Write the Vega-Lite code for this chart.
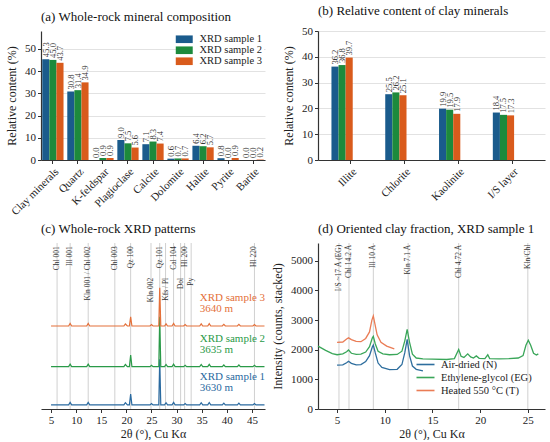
{
  "$schema": "https://vega.github.io/schema/vega-lite/v6.json",
  "padding": {"left": 5, "top": 5, "right": 5, "bottom": 0},
  "bounds": "flush",
  "columns": 2,
  "spacing": {"row": 83, "column": 53},
  "resolve": {"scale": {"color": "independent"}, "legend": {"color": "independent"}},
  "datasets": {
    "minerals": [
      {"mineral": "Clay minerals", "sample": "XRD sample 1", "value": 45.3},
      {"mineral": "Clay minerals", "sample": "XRD sample 2", "value": 45.0},
      {"mineral": "Clay minerals", "sample": "XRD sample 3", "value": 43.7},
      {"mineral": "Quartz", "sample": "XRD sample 1", "value": 30.8},
      {"mineral": "Quartz", "sample": "XRD sample 2", "value": 31.4},
      {"mineral": "Quartz", "sample": "XRD sample 3", "value": 34.9},
      {"mineral": "K-feldspar", "sample": "XRD sample 1", "value": 0.0},
      {"mineral": "K-feldspar", "sample": "XRD sample 2", "value": 0.9},
      {"mineral": "K-feldspar", "sample": "XRD sample 3", "value": 0.9},
      {"mineral": "Plagioclase", "sample": "XRD sample 1", "value": 9.0},
      {"mineral": "Plagioclase", "sample": "XRD sample 2", "value": 7.5},
      {"mineral": "Plagioclase", "sample": "XRD sample 3", "value": 5.6},
      {"mineral": "Calcite", "sample": "XRD sample 1", "value": 7.1},
      {"mineral": "Calcite", "sample": "XRD sample 2", "value": 8.3},
      {"mineral": "Calcite", "sample": "XRD sample 3", "value": 7.4},
      {"mineral": "Dolomite", "sample": "XRD sample 1", "value": 0.6},
      {"mineral": "Dolomite", "sample": "XRD sample 2", "value": 0.7},
      {"mineral": "Dolomite", "sample": "XRD sample 3", "value": 0.7},
      {"mineral": "Halite", "sample": "XRD sample 1", "value": 6.4},
      {"mineral": "Halite", "sample": "XRD sample 2", "value": 6.2},
      {"mineral": "Halite", "sample": "XRD sample 3", "value": 5.7},
      {"mineral": "Pyrite", "sample": "XRD sample 1", "value": 0.8},
      {"mineral": "Pyrite", "sample": "XRD sample 2", "value": 0.0},
      {"mineral": "Pyrite", "sample": "XRD sample 3", "value": 0.9},
      {"mineral": "Barite", "sample": "XRD sample 1", "value": 0.0},
      {"mineral": "Barite", "sample": "XRD sample 2", "value": 0.0},
      {"mineral": "Barite", "sample": "XRD sample 3", "value": 0.2}
    ],
    "clays": [
      {"clay": "Illite", "sample": "XRD sample 1", "value": 36.2},
      {"clay": "Illite", "sample": "XRD sample 2", "value": 36.8},
      {"clay": "Illite", "sample": "XRD sample 3", "value": 39.7},
      {"clay": "Chlorite", "sample": "XRD sample 1", "value": 25.5},
      {"clay": "Chlorite", "sample": "XRD sample 2", "value": 26.2},
      {"clay": "Chlorite", "sample": "XRD sample 3", "value": 25.1},
      {"clay": "Kaolinite", "sample": "XRD sample 1", "value": 19.9},
      {"clay": "Kaolinite", "sample": "XRD sample 2", "value": 19.5},
      {"clay": "Kaolinite", "sample": "XRD sample 3", "value": 17.9},
      {"clay": "I/S layer", "sample": "XRD sample 1", "value": 18.4},
      {"clay": "I/S layer", "sample": "XRD sample 2", "value": 17.5},
      {"clay": "I/S layer", "sample": "XRD sample 3", "value": 17.3}
    ],
    "rockPeaks": [
      {"label": "Chl 001", "theta": 6.2, "tier": "upper"},
      {"label": "Ill 001", "theta": 8.8, "tier": "upper"},
      {"label": "Kln 001 / Chl 002", "theta": 12.4, "tier": "upper"},
      {"label": "Chl 003", "theta": 17.7, "tier": "upper"},
      {"label": "Qz 100", "theta": 20.85, "tier": "upper"},
      {"label": "Kln 002", "theta": 24.9, "tier": "lower"},
      {"label": "Qz 101", "theta": 26.64, "tier": "upper"},
      {"label": "Kfs / Pl", "theta": 27.8, "tier": "lower"},
      {"label": "Cal 104", "theta": 29.4, "tier": "upper"},
      {"label": "Dol", "theta": 30.8, "tier": "lower"},
      {"label": "Hl 200", "theta": 31.6, "tier": "upper"},
      {"label": "Py", "theta": 32.9, "tier": "lower"},
      {"label": "Hl 220", "theta": 45.5, "tier": "upper"}
    ],
    "rockSamples": [
      {"sample": "s1", "name": "XRD sample 1", "depth": "3630 m"},
      {"sample": "s2", "name": "XRD sample 2", "depth": "3635 m"},
      {"sample": "s3", "name": "XRD sample 3", "depth": "3640 m"}
    ],
    "rockPatterns": [
      {"sample": "s1", "theta": 5, "counts": 2.5},
      {"sample": "s1", "theta": 8.5, "counts": 2.5},
      {"sample": "s1", "theta": 8.8, "counts": 4},
      {"sample": "s1", "theta": 9.1, "counts": 2.5},
      {"sample": "s1", "theta": 12.1, "counts": 2.5},
      {"sample": "s1", "theta": 12.4, "counts": 4},
      {"sample": "s1", "theta": 12.7, "counts": 2.5},
      {"sample": "s1", "theta": 19.5, "counts": 2.5},
      {"sample": "s1", "theta": 19.8, "counts": 3.8},
      {"sample": "s1", "theta": 20.2, "counts": 2.5},
      {"sample": "s1", "theta": 20.6, "counts": 2.5},
      {"sample": "s1", "theta": 20.85, "counts": 9},
      {"sample": "s1", "theta": 21.1, "counts": 2.5},
      {"sample": "s1", "theta": 24.7, "counts": 2.5},
      {"sample": "s1", "theta": 25.0, "counts": 3.3},
      {"sample": "s1", "theta": 25.3, "counts": 2.5},
      {"sample": "s1", "theta": 26.45, "counts": 2.5},
      {"sample": "s1", "theta": 26.64, "counts": 30},
      {"sample": "s1", "theta": 26.85, "counts": 2.5},
      {"sample": "s1", "theta": 27.6, "counts": 2.5},
      {"sample": "s1", "theta": 27.9, "counts": 3.8},
      {"sample": "s1", "theta": 28.2, "counts": 2.5},
      {"sample": "s1", "theta": 29.1, "counts": 2.5},
      {"sample": "s1", "theta": 29.4, "counts": 4},
      {"sample": "s1", "theta": 29.7, "counts": 2.5},
      {"sample": "s1", "theta": 31.4, "counts": 2.5},
      {"sample": "s1", "theta": 31.7, "counts": 3.3},
      {"sample": "s1", "theta": 32.0, "counts": 2.5},
      {"sample": "s1", "theta": 34.6, "counts": 2.5},
      {"sample": "s1", "theta": 34.9, "counts": 3.8},
      {"sample": "s1", "theta": 35.2, "counts": 2.5},
      {"sample": "s1", "theta": 36.2, "counts": 2.5},
      {"sample": "s1", "theta": 36.5, "counts": 3.9},
      {"sample": "s1", "theta": 36.8, "counts": 2.5},
      {"sample": "s1", "theta": 39.1, "counts": 2.5},
      {"sample": "s1", "theta": 39.4, "counts": 3.5},
      {"sample": "s1", "theta": 39.7, "counts": 2.5},
      {"sample": "s1", "theta": 42.1, "counts": 2.5},
      {"sample": "s1", "theta": 42.4, "counts": 3.5},
      {"sample": "s1", "theta": 42.7, "counts": 2.5},
      {"sample": "s1", "theta": 45.2, "counts": 2.5},
      {"sample": "s1", "theta": 45.5, "counts": 3.3},
      {"sample": "s1", "theta": 45.8, "counts": 2.5},
      {"sample": "s1", "theta": 47.5, "counts": 2.5},
      {"sample": "s2", "theta": 5, "counts": 25.5},
      {"sample": "s2", "theta": 8.5, "counts": 25.5},
      {"sample": "s2", "theta": 8.8, "counts": 27},
      {"sample": "s2", "theta": 9.1, "counts": 25.5},
      {"sample": "s2", "theta": 12.1, "counts": 25.5},
      {"sample": "s2", "theta": 12.4, "counts": 27},
      {"sample": "s2", "theta": 12.7, "counts": 25.5},
      {"sample": "s2", "theta": 19.5, "counts": 25.5},
      {"sample": "s2", "theta": 19.8, "counts": 26.8},
      {"sample": "s2", "theta": 20.2, "counts": 25.5},
      {"sample": "s2", "theta": 20.6, "counts": 25.5},
      {"sample": "s2", "theta": 20.85, "counts": 32.5},
      {"sample": "s2", "theta": 21.1, "counts": 25.5},
      {"sample": "s2", "theta": 24.7, "counts": 25.5},
      {"sample": "s2", "theta": 25.0, "counts": 26.3},
      {"sample": "s2", "theta": 25.3, "counts": 25.5},
      {"sample": "s2", "theta": 26.45, "counts": 25.5},
      {"sample": "s2", "theta": 26.64, "counts": 55.5},
      {"sample": "s2", "theta": 26.85, "counts": 25.5},
      {"sample": "s2", "theta": 27.6, "counts": 25.5},
      {"sample": "s2", "theta": 27.9, "counts": 26.8},
      {"sample": "s2", "theta": 28.2, "counts": 25.5},
      {"sample": "s2", "theta": 29.1, "counts": 25.5},
      {"sample": "s2", "theta": 29.4, "counts": 27},
      {"sample": "s2", "theta": 29.7, "counts": 25.5},
      {"sample": "s2", "theta": 31.4, "counts": 25.5},
      {"sample": "s2", "theta": 31.7, "counts": 26.3},
      {"sample": "s2", "theta": 32.0, "counts": 25.5},
      {"sample": "s2", "theta": 34.6, "counts": 25.5},
      {"sample": "s2", "theta": 34.9, "counts": 26.8},
      {"sample": "s2", "theta": 35.2, "counts": 25.5},
      {"sample": "s2", "theta": 36.2, "counts": 25.5},
      {"sample": "s2", "theta": 36.5, "counts": 26.9},
      {"sample": "s2", "theta": 36.8, "counts": 25.5},
      {"sample": "s2", "theta": 39.1, "counts": 25.5},
      {"sample": "s2", "theta": 39.4, "counts": 26.5},
      {"sample": "s2", "theta": 39.7, "counts": 25.5},
      {"sample": "s2", "theta": 42.1, "counts": 25.5},
      {"sample": "s2", "theta": 42.4, "counts": 26.5},
      {"sample": "s2", "theta": 42.7, "counts": 25.5},
      {"sample": "s2", "theta": 45.2, "counts": 25.5},
      {"sample": "s2", "theta": 45.5, "counts": 26.3},
      {"sample": "s2", "theta": 45.8, "counts": 25.5},
      {"sample": "s2", "theta": 47.5, "counts": 25.5},
      {"sample": "s3", "theta": 5, "counts": 50},
      {"sample": "s3", "theta": 8.5, "counts": 50},
      {"sample": "s3", "theta": 8.8, "counts": 51.5},
      {"sample": "s3", "theta": 9.1, "counts": 50},
      {"sample": "s3", "theta": 12.1, "counts": 50},
      {"sample": "s3", "theta": 12.4, "counts": 51.5},
      {"sample": "s3", "theta": 12.7, "counts": 50},
      {"sample": "s3", "theta": 19.5, "counts": 50},
      {"sample": "s3", "theta": 19.8, "counts": 51.2},
      {"sample": "s3", "theta": 20.2, "counts": 50},
      {"sample": "s3", "theta": 20.6, "counts": 50},
      {"sample": "s3", "theta": 20.85, "counts": 55.5},
      {"sample": "s3", "theta": 21.1, "counts": 50},
      {"sample": "s3", "theta": 24.7, "counts": 50},
      {"sample": "s3", "theta": 25.0, "counts": 50.8},
      {"sample": "s3", "theta": 25.3, "counts": 50},
      {"sample": "s3", "theta": 26.45, "counts": 50},
      {"sample": "s3", "theta": 26.64, "counts": 73},
      {"sample": "s3", "theta": 26.85, "counts": 50},
      {"sample": "s3", "theta": 27.6, "counts": 50},
      {"sample": "s3", "theta": 27.9, "counts": 51.3},
      {"sample": "s3", "theta": 28.2, "counts": 50},
      {"sample": "s3", "theta": 29.1, "counts": 50},
      {"sample": "s3", "theta": 29.4, "counts": 51.5},
      {"sample": "s3", "theta": 29.7, "counts": 50},
      {"sample": "s3", "theta": 31.4, "counts": 50},
      {"sample": "s3", "theta": 31.7, "counts": 50.8},
      {"sample": "s3", "theta": 32.0, "counts": 50},
      {"sample": "s3", "theta": 34.6, "counts": 50},
      {"sample": "s3", "theta": 34.9, "counts": 51.3},
      {"sample": "s3", "theta": 35.2, "counts": 50},
      {"sample": "s3", "theta": 36.2, "counts": 50},
      {"sample": "s3", "theta": 36.5, "counts": 51.4},
      {"sample": "s3", "theta": 36.8, "counts": 50},
      {"sample": "s3", "theta": 39.1, "counts": 50},
      {"sample": "s3", "theta": 39.4, "counts": 51},
      {"sample": "s3", "theta": 39.7, "counts": 50},
      {"sample": "s3", "theta": 42.1, "counts": 50},
      {"sample": "s3", "theta": 42.4, "counts": 51},
      {"sample": "s3", "theta": 42.7, "counts": 50},
      {"sample": "s3", "theta": 45.2, "counts": 50},
      {"sample": "s3", "theta": 45.5, "counts": 50.8},
      {"sample": "s3", "theta": 45.8, "counts": 50},
      {"sample": "s3", "theta": 47.5, "counts": 50}
    ],
    "clayPeaks": [
      {"label": "I/S ~17 Å (EG)", "theta": 5.2},
      {"label": "Chl 14.2 Å", "theta": 6.25},
      {"label": "Ill 10 Å", "theta": 8.8},
      {"label": "Kln 7.1 Å", "theta": 12.45},
      {"label": "Chl 4.72 Å", "theta": 17.75},
      {"label": "Kln/Chl", "theta": 25.0}
    ],
    "clayPatterns": [
      {"treatment": "Air-dried (N)", "theta": 5.0, "counts": 1480},
      {"treatment": "Air-dried (N)", "theta": 5.6, "counts": 1490},
      {"treatment": "Air-dried (N)", "theta": 6.0, "counts": 1560},
      {"treatment": "Air-dried (N)", "theta": 6.2, "counts": 1610},
      {"treatment": "Air-dried (N)", "theta": 6.5, "counts": 1540},
      {"treatment": "Air-dried (N)", "theta": 7.0, "counts": 1490},
      {"treatment": "Air-dried (N)", "theta": 7.5, "counts": 1500},
      {"treatment": "Air-dried (N)", "theta": 8.0, "counts": 1600},
      {"treatment": "Air-dried (N)", "theta": 8.4, "counts": 1800},
      {"treatment": "Air-dried (N)", "theta": 8.7, "counts": 2100},
      {"treatment": "Air-dried (N)", "theta": 8.8, "counts": 2160},
      {"treatment": "Air-dried (N)", "theta": 9.0, "counts": 1900},
      {"treatment": "Air-dried (N)", "theta": 9.3, "counts": 1550},
      {"treatment": "Air-dried (N)", "theta": 9.7, "counts": 1400},
      {"treatment": "Air-dried (N)", "theta": 10.5, "counts": 1330},
      {"treatment": "Air-dried (N)", "theta": 11.3, "counts": 1340},
      {"treatment": "Air-dried (N)", "theta": 11.8, "counts": 1500},
      {"treatment": "Air-dried (N)", "theta": 12.1, "counts": 1900},
      {"treatment": "Air-dried (N)", "theta": 12.35, "counts": 2350},
      {"treatment": "Air-dried (N)", "theta": 12.6, "counts": 1800},
      {"treatment": "Air-dried (N)", "theta": 12.9, "counts": 1450},
      {"treatment": "Air-dried (N)", "theta": 13.3, "counts": 1340},
      {"treatment": "Air-dried (N)", "theta": 14.0, "counts": 1290},
      {"treatment": "Ethylene-glycol (EG)", "theta": 3.0, "counts": 2120},
      {"treatment": "Ethylene-glycol (EG)", "theta": 3.8, "counts": 1980},
      {"treatment": "Ethylene-glycol (EG)", "theta": 4.5, "counts": 1870},
      {"treatment": "Ethylene-glycol (EG)", "theta": 5.0, "counts": 1830},
      {"treatment": "Ethylene-glycol (EG)", "theta": 5.6, "counts": 1860},
      {"treatment": "Ethylene-glycol (EG)", "theta": 6.0, "counts": 1930},
      {"treatment": "Ethylene-glycol (EG)", "theta": 6.2, "counts": 1990},
      {"treatment": "Ethylene-glycol (EG)", "theta": 6.5, "counts": 1880},
      {"treatment": "Ethylene-glycol (EG)", "theta": 7.0, "counts": 1840},
      {"treatment": "Ethylene-glycol (EG)", "theta": 7.5, "counts": 1850},
      {"treatment": "Ethylene-glycol (EG)", "theta": 8.0, "counts": 1920},
      {"treatment": "Ethylene-glycol (EG)", "theta": 8.4, "counts": 2100},
      {"treatment": "Ethylene-glycol (EG)", "theta": 8.7, "counts": 2400},
      {"treatment": "Ethylene-glycol (EG)", "theta": 8.8, "counts": 2450},
      {"treatment": "Ethylene-glycol (EG)", "theta": 9.0, "counts": 2200},
      {"treatment": "Ethylene-glycol (EG)", "theta": 9.3, "counts": 1950},
      {"treatment": "Ethylene-glycol (EG)", "theta": 9.8, "counts": 1860},
      {"treatment": "Ethylene-glycol (EG)", "theta": 10.5, "counts": 1830},
      {"treatment": "Ethylene-glycol (EG)", "theta": 11.3, "counts": 1840},
      {"treatment": "Ethylene-glycol (EG)", "theta": 11.8, "counts": 1950},
      {"treatment": "Ethylene-glycol (EG)", "theta": 12.1, "counts": 2300},
      {"treatment": "Ethylene-glycol (EG)", "theta": 12.35, "counts": 2690},
      {"treatment": "Ethylene-glycol (EG)", "theta": 12.6, "counts": 2250},
      {"treatment": "Ethylene-glycol (EG)", "theta": 12.9, "counts": 1850},
      {"treatment": "Ethylene-glycol (EG)", "theta": 13.3, "counts": 1720},
      {"treatment": "Ethylene-glycol (EG)", "theta": 14.0, "counts": 1690},
      {"treatment": "Ethylene-glycol (EG)", "theta": 15.0, "counts": 1680},
      {"treatment": "Ethylene-glycol (EG)", "theta": 16.5, "counts": 1670},
      {"treatment": "Ethylene-glycol (EG)", "theta": 17.3, "counts": 1700},
      {"treatment": "Ethylene-glycol (EG)", "theta": 17.75, "counts": 2010},
      {"treatment": "Ethylene-glycol (EG)", "theta": 18.0, "counts": 1780},
      {"treatment": "Ethylene-glycol (EG)", "theta": 18.3, "counts": 1740},
      {"treatment": "Ethylene-glycol (EG)", "theta": 18.7, "counts": 1860},
      {"treatment": "Ethylene-glycol (EG)", "theta": 19.0, "counts": 1760},
      {"treatment": "Ethylene-glycol (EG)", "theta": 19.3, "counts": 1720},
      {"treatment": "Ethylene-glycol (EG)", "theta": 19.6, "counts": 1790},
      {"treatment": "Ethylene-glycol (EG)", "theta": 19.9, "counts": 1710},
      {"treatment": "Ethylene-glycol (EG)", "theta": 20.5, "counts": 1700},
      {"treatment": "Ethylene-glycol (EG)", "theta": 20.8, "counts": 1830},
      {"treatment": "Ethylene-glycol (EG)", "theta": 21.0, "counts": 1700},
      {"treatment": "Ethylene-glycol (EG)", "theta": 22.0, "counts": 1690},
      {"treatment": "Ethylene-glycol (EG)", "theta": 23.0, "counts": 1700},
      {"treatment": "Ethylene-glycol (EG)", "theta": 24.0, "counts": 1720},
      {"treatment": "Ethylene-glycol (EG)", "theta": 24.5, "counts": 1800},
      {"treatment": "Ethylene-glycol (EG)", "theta": 24.8, "counts": 2150},
      {"treatment": "Ethylene-glycol (EG)", "theta": 25.05, "counts": 2320},
      {"treatment": "Ethylene-glycol (EG)", "theta": 25.3, "counts": 2150},
      {"treatment": "Ethylene-glycol (EG)", "theta": 25.6, "counts": 1880},
      {"treatment": "Ethylene-glycol (EG)", "theta": 25.9, "counts": 1820},
      {"treatment": "Ethylene-glycol (EG)", "theta": 26.1, "counts": 1860},
      {"treatment": "Heated 550 °C (T)", "theta": 5.0, "counts": 2250},
      {"treatment": "Heated 550 °C (T)", "theta": 5.6, "counts": 2260},
      {"treatment": "Heated 550 °C (T)", "theta": 6.0, "counts": 2360},
      {"treatment": "Heated 550 °C (T)", "theta": 6.2, "counts": 2400},
      {"treatment": "Heated 550 °C (T)", "theta": 6.5, "counts": 2340},
      {"treatment": "Heated 550 °C (T)", "theta": 7.0, "counts": 2280},
      {"treatment": "Heated 550 °C (T)", "theta": 7.5, "counts": 2270},
      {"treatment": "Heated 550 °C (T)", "theta": 8.0, "counts": 2380},
      {"treatment": "Heated 550 °C (T)", "theta": 8.4, "counts": 2600},
      {"treatment": "Heated 550 °C (T)", "theta": 8.65, "counts": 3000},
      {"treatment": "Heated 550 °C (T)", "theta": 8.8, "counts": 3140},
      {"treatment": "Heated 550 °C (T)", "theta": 8.95, "counts": 2900},
      {"treatment": "Heated 550 °C (T)", "theta": 9.2, "counts": 2500},
      {"treatment": "Heated 550 °C (T)", "theta": 9.6, "counts": 2250},
      {"treatment": "Heated 550 °C (T)", "theta": 10.2, "counts": 2120},
      {"treatment": "Heated 550 °C (T)", "theta": 11.0, "counts": 2030}
    ]
  },
  "concat": [
    {
      "width": 224,
      "height": 129,
      "title": {"text": "(a) Whole-rock mineral composition"},
      "data": {"name": "minerals"},
      "encoding": {
        "x": {"field": "mineral", "type": "nominal", "sort": null,
              "scale": {"paddingInner": 0.15, "paddingOuter": 0.05},
              "axis": {"title": null, "labelAngle": -45}},
        "xOffset": {"field": "sample", "type": "nominal", "sort": null},
        "y": {"field": "value", "type": "quantitative",
              "scale": {"domain": [0, 58], "nice": false},
              "axis": {"title": "Relative content (%)", "values": [0, 10, 20, 30, 40, 50], "grid": true}}
      },
      "layer": [
        {
          "mark": {"type": "bar"},
          "encoding": {
            "color": {"field": "sample", "type": "nominal", "sort": null,
                      "scale": {"range": ["#1a5b8c", "#1d8a3c", "#d95b1c"]},
                      "legend": {"orient": "top-right", "title": null, "offset": 1, "padding": 2,
                                 "fillColor": "white", "symbolType": "M-2,-0.9H2V0.9H-2Z",
                                 "symbolSize": 72, "symbolStrokeWidth": 0, "labelFontSize": 10.5,
                                 "labelOffset": 10, "rowPadding": 0}}
          }
        },
        {
          "mark": {"type": "text", "angle": 270, "align": "left", "baseline": "middle",
                   "dx": 2, "fontSize": 8.5, "color": "#333"},
          "encoding": {"text": {"field": "value", "type": "quantitative", "format": ".1f"}}
        }
      ]
    },
    {
      "width": 227,
      "height": 129,
      "title": {"text": "(b) Relative content of clay minerals"},
      "data": {"name": "clays"},
      "encoding": {
        "x": {"field": "clay", "type": "nominal", "sort": null,
              "scale": {"paddingInner": 0.28, "paddingOuter": 0.25},
              "axis": {"title": null, "labelAngle": -45}},
        "xOffset": {"field": "sample", "type": "nominal", "sort": null},
        "y": {"field": "value", "type": "quantitative",
              "scale": {"domain": [0, 50], "nice": false},
              "axis": {"title": "Relative content (%)", "values": [0, 10, 20, 30, 40, 50], "grid": true}}
      },
      "layer": [
        {
          "mark": {"type": "bar"},
          "encoding": {
            "color": {"field": "sample", "type": "nominal", "sort": null,
                      "scale": {"range": ["#1a5b8c", "#1d8a3c", "#d95b1c"]},
                      "legend": null}
          }
        },
        {
          "mark": {"type": "text", "angle": 270, "align": "left", "baseline": "middle",
                   "dx": 2, "fontSize": 8.5, "color": "#333"},
          "encoding": {"text": {"field": "value", "type": "quantitative", "format": ".1f"}}
        }
      ]
    },
    {
      "width": 224,
      "height": 166,
      "title": {"text": "(c) Whole-rock XRD patterns"},
      "encoding": {
        "x": {"field": "theta", "type": "quantitative",
              "scale": {"domain": [3, 47.6], "nice": false, "zero": false},
              "axis": {"title": "2θ (°), Cu Kα", "values": [5, 10, 15, 20, 25, 30, 35, 40, 45], "titlePadding": 3}}
      },
      "layer": [
        {
          "data": {"name": "rockPeaks"},
          "mark": {"type": "rule", "color": "#d0d0d0", "strokeWidth": 1}
        },
        {
          "data": {"name": "rockPatterns"},
          "mark": {"type": "line", "strokeWidth": 1.2},
          "encoding": {
            "y": {"field": "counts", "type": "quantitative",
                  "scale": {"domain": [0, 100], "nice": false},
                  "axis": {"title": "Intensity (counts, stacked)", "labels": false, "ticks": false, "titlePadding": 10}},
            "color": {"field": "sample", "type": "nominal",
                      "scale": {"domain": ["s1", "s2", "s3"], "range": ["#2a6aa0", "#2a9a48", "#e4703a"]},
                      "legend": null}
          }
        },
        {
          "data": {"name": "rockPeaks"},
          "transform": [{"filter": "datum.tier === 'upper'"}],
          "mark": {"type": "text", "angle": 270, "align": "right", "baseline": "middle",
                   "fontSize": 7.5, "color": "#333"},
          "encoding": {"y": {"datum": 98, "axis": null}, "text": {"field": "label"}}
        },
        {
          "data": {"name": "rockPeaks"},
          "transform": [{"filter": "datum.tier === 'lower'"}],
          "mark": {"type": "text", "angle": 270, "align": "right", "baseline": "middle",
                   "fontSize": 7.5, "color": "#333"},
          "encoding": {"y": {"datum": 79, "axis": null}, "text": {"field": "label"}}
        },
        {
          "data": {"name": "rockPatterns"},
          "transform": [
            {"filter": "datum.theta === 34.6"},
            {"lookup": "sample", "from": {"data": {"name": "rockSamples"}, "key": "sample", "fields": ["name", "depth"]}}
          ],
          "layer": [
            {
              "mark": {"type": "text", "align": "left", "baseline": "middle", "fontSize": 11, "dy": -28},
              "encoding": {"text": {"field": "name", "type": "nominal"}}
            },
            {
              "mark": {"type": "text", "align": "left", "baseline": "middle", "fontSize": 11, "dy": -17},
              "encoding": {"text": {"field": "depth", "type": "nominal"}}
            }
          ],
          "encoding": {
            "y": {"field": "counts", "type": "quantitative", "axis": null},
            "color": {"field": "sample", "type": "nominal", "legend": null}
          }
        }
      ]
    },
    {
      "width": 227,
      "height": 166,
      "title": {"text": "(d) Oriented clay fraction, XRD sample 1"},
      "encoding": {
        "x": {"field": "theta", "type": "quantitative",
              "scale": {"domain": [3, 26.8], "nice": false, "zero": false},
              "axis": {"title": "2θ (°), Cu Kα", "values": [5, 10, 15, 20, 25], "titlePadding": 3}}
      },
      "layer": [
        {
          "data": {"name": "clayPeaks"},
          "mark": {"type": "rule", "color": "#d0d0d0", "strokeWidth": 1}
        },
        {
          "data": {"name": "clayPatterns"},
          "mark": {"type": "line", "strokeWidth": 1.3},
          "encoding": {
            "y": {"field": "counts", "type": "quantitative",
                  "scale": {"domain": [0, 5600], "nice": false},
                  "axis": {"title": "Intensity (counts, stacked)", "values": [0, 1000, 2000, 3000, 4000, 5000],
                           "format": "d", "labelOverlap": false}},
            "color": {"field": "treatment", "type": "nominal", "sort": null,
                      "scale": {"domain": ["Air-dried (N)", "Ethylene-glycol (EG)", "Heated 550 °C (T)"],
                                "range": ["#2e6e9e", "#3aa659", "#ea7c55"]},
                      "legend": {"orient": "bottom-right", "title": null, "offset": 11, "padding": 2,
                                 "symbolType": "M-2,0H2", "symbolSize": 81, "symbolStrokeWidth": 1.6,
                                 "labelFontSize": 10.5, "labelOffset": 10, "rowPadding": 2}}
          }
        },
        {
          "data": {"name": "clayPeaks"},
          "mark": {"type": "text", "angle": 270, "align": "right", "baseline": "middle",
                   "fontSize": 7.5, "color": "#333"},
          "encoding": {
            "y": {"datum": 5540, "type": "quantitative",
                  "axis": {"title": "Intensity (counts, stacked)", "values": [0, 1000, 2000, 3000, 4000, 5000],
                           "format": "d", "labelOverlap": false}},
            "text": {"field": "label"}
          }
        }
      ]
    }
  ],
  "config": {
    "font": "Liberation Serif",
    "view": {"stroke": null},
    "title": {"font": "Liberation Serif", "fontSize": 13, "fontWeight": "normal", "anchor": "start",
              "frame": "group", "offset": 7, "color": "#111"},
    "axis": {"labelFont": "Liberation Serif", "titleFont": "Liberation Serif", "labelFontSize": 11,
             "titleFontSize": 12, "titleFontWeight": "normal", "labelColor": "#222", "titleColor": "#222",
             "domainColor": "#333", "domainWidth": 1.2, "tickColor": "#333", "tickSize": 3.5,
             "labelPadding": 2, "titlePadding": 6, "grid": false, "gridColor": "#e2e2e2"},
    "legend": {"labelFont": "Liberation Serif", "labelColor": "#222"},
    "text": {"font": "Liberation Serif"}
  }
}
